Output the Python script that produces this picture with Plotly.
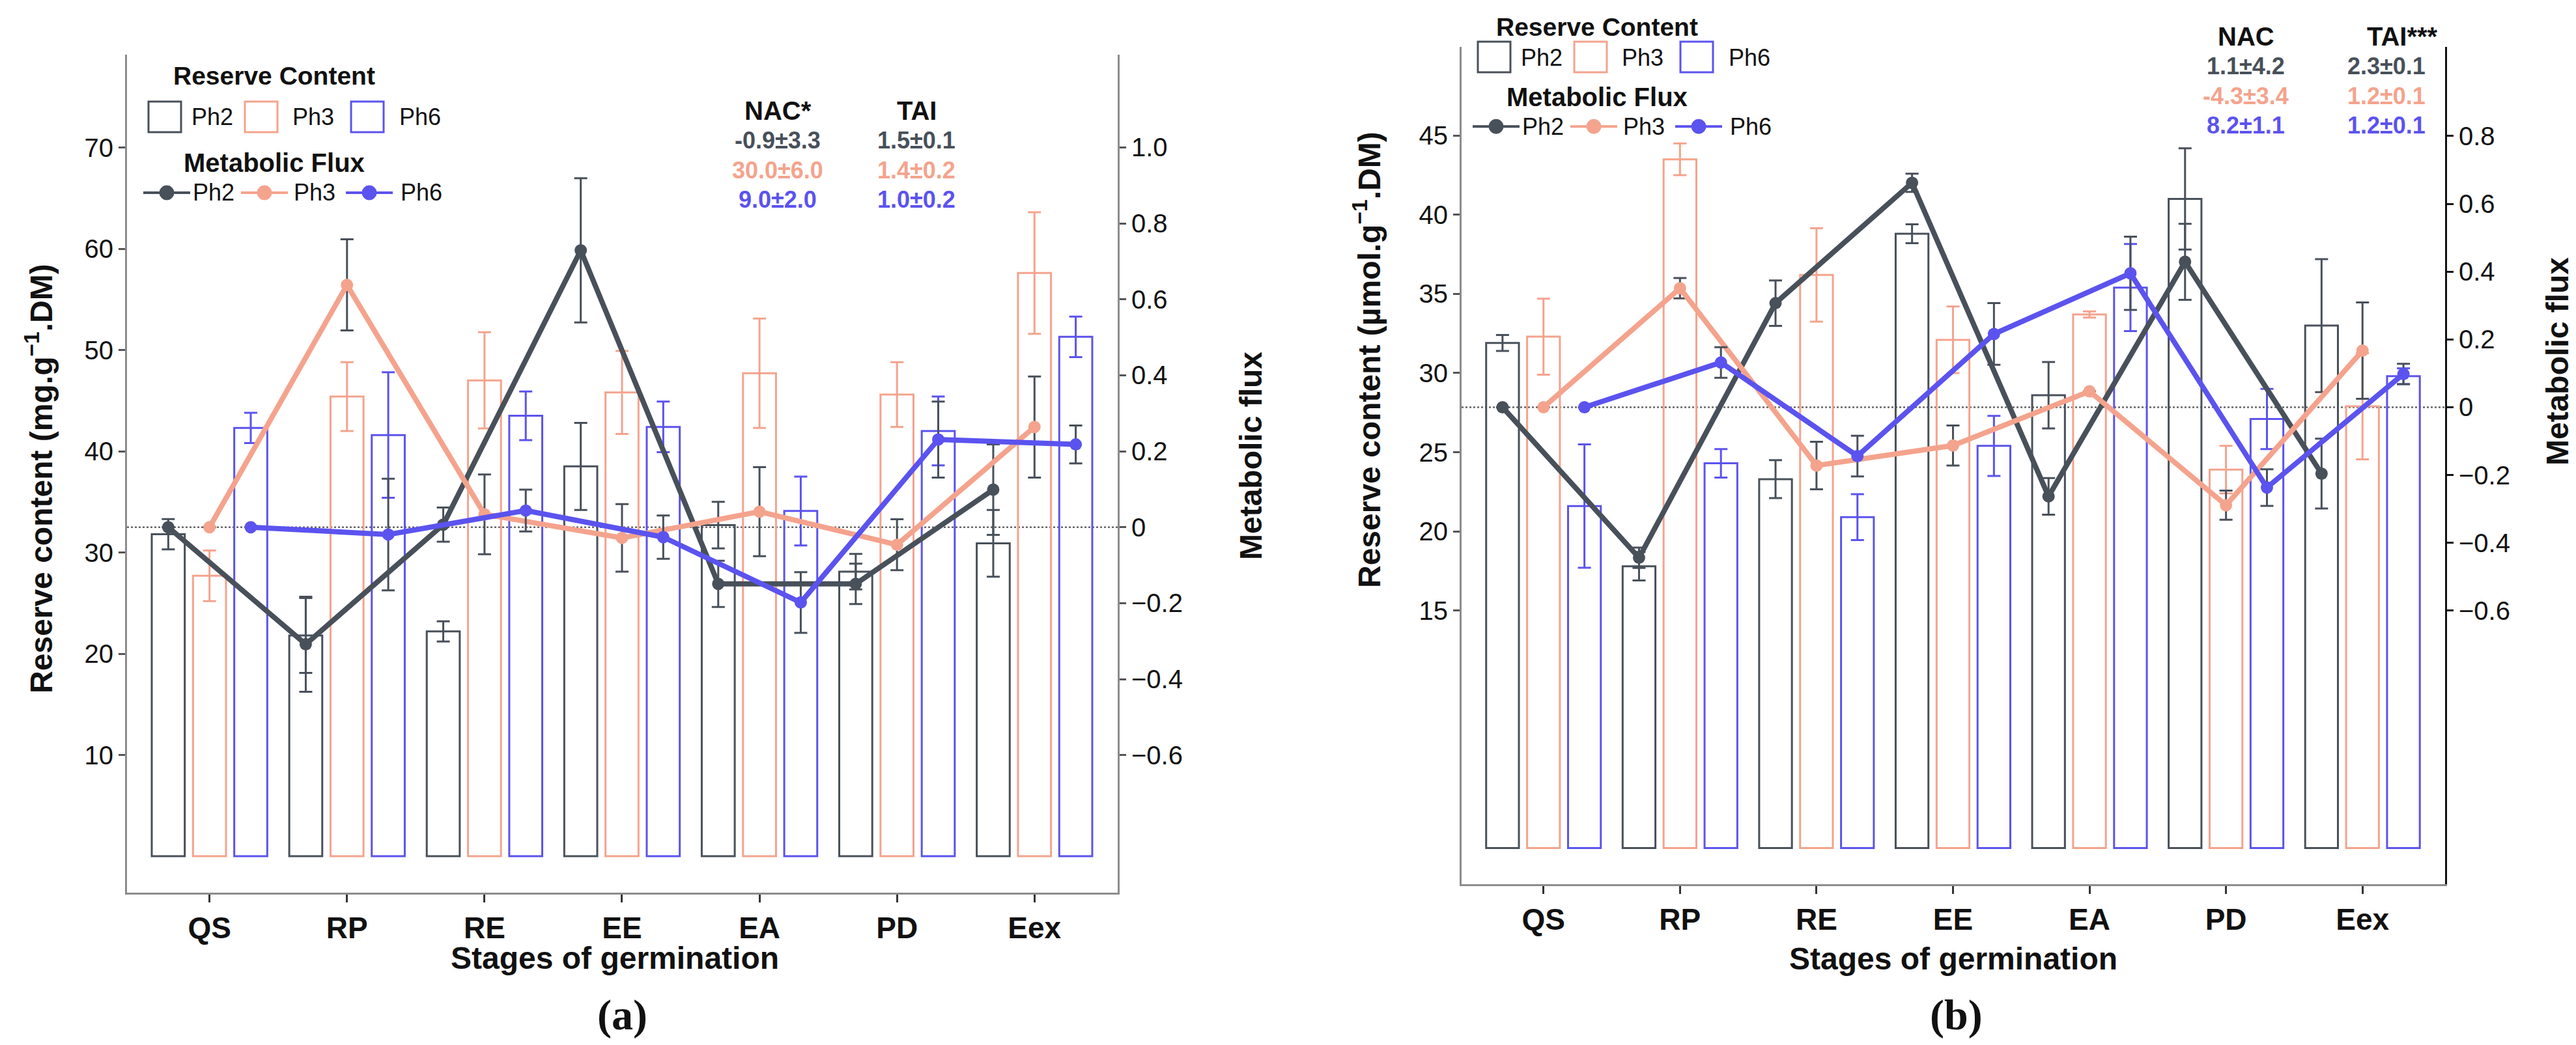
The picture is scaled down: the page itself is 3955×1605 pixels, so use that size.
import plotly.graph_objects as go

W, H = 3955, 1605

STAGES = ["QS", "RP", "RE", "EE", "EA", "PD", "Eex"]
SERIES = ["Ph2", "Ph3", "Ph6"]
COLORS = ["#48505a", "#f4a38d", "#5b53ee"]
ERR_GRAY = "#48505a"

# panel (a) reserve content, mg.g-1.DM
a_res_ph2 = [31.8, 21.8, 22.2, 38.5, 32.7, 28.1, 30.9]
a_res_ph2_err = [1.5, 3.7, 1.0, 4.3, 2.3, 1.75, 3.3]
a_res_ph3 = [27.7, 45.4, 47.0, 45.8, 47.7, 45.6, 57.6]
a_res_ph3_err = [2.5, 3.4, 4.75, 4.1, 5.4, 3.2, 6.0]
a_res_ph6 = [42.3, 41.6, 43.5, 42.4, 34.1, 42.0, 51.3]
a_res_ph6_err = [1.5, 6.2, 2.4, 2.5, 3.4, 3.4, 2.0]

# panel (a) metabolic flux
a_flux_ph2 = [0, -0.308, 0.007, 0.729, -0.149, -0.149, 0.099]
a_flux_ph2_err = [None, 0.125, 0.045, 0.19, 0.061, 0.053, 0.119]
a_flux_ph3 = [0, 0.638, 0.034, -0.028, 0.041, -0.046, 0.264]
a_flux_ph3_err = [None, 0.12, 0.105, 0.089, 0.117, 0.067, 0.133]
a_flux_ph6 = [0, -0.019, 0.044, -0.026, -0.198, 0.231, 0.218]
a_flux_ph6_err = [None, 0.147, 0.055, 0.057, 0.08, 0.1, 0.05]

# panel (b) reserve content, umol.g-1.DM
b_res_ph2 = [31.9, 17.8, 23.3, 38.8, 28.6, 41.0, 33.0]
b_res_ph2_err = [0.5, 0.9, 1.2, 0.6, 2.1, 3.2, 4.2]
b_res_ph3 = [32.3, 43.5, 36.2, 32.1, 33.7, 23.9, 27.9]
b_res_ph3_err = [2.4, 1.0, 2.95, 2.1, 0.2, 1.5, 3.35]
b_res_ph6 = [21.6, 24.3, 20.9, 25.4, 35.4, 27.1, 29.8]
b_res_ph6_err = [3.9, 0.9, 1.45, 1.9, 2.75, 1.9, 0.5]

# panel (b) metabolic flux
b_flux_ph2 = [0, -0.444, 0.307, 0.662, -0.263, 0.429, -0.196]
b_flux_ph2_err = [None, 0.03, 0.067, 0.027, 0.054, 0.112, 0.103]
b_flux_ph3 = [0, 0.351, -0.172, -0.113, 0.047, -0.289, 0.167]
b_flux_ph3_err = [None, 0.03, 0.07, 0.059, None, 0.043, 0.142]
b_flux_ph6 = [0, 0.132, -0.144, 0.216, 0.395, -0.237, 0.098]
b_flux_ph6_err = [None, 0.045, 0.06, 0.091, 0.108, 0.054, 0.03]

# summary indices
a_nac = ["-0.9±3.3", "30.0±6.0", "9.0±2.0"]
a_tai = ["1.5±0.1", "1.4±0.2", "1.0±0.2"]
b_nac = ["1.1±4.2", "-4.3±3.4", "8.2±1.1"]
b_tai = ["2.3±0.1", "1.2±0.1", "1.2±0.1"]

a_left_ticks = [10, 20, 30, 40, 50, 60, 70]
b_left_ticks = [15, 20, 25, 30, 35, 40, 45]
a_right_ticks = [-0.6, -0.4, -0.2, 0, 0.2, 0.4, 0.6, 0.8, 1.0]
a_right_text = ["−0.6", "−0.4", "−0.2", "0", "0.2", "0.4", "0.6", "0.8", "1.0"]
b_right_ticks = [-0.6, -0.4, -0.2, 0, 0.2, 0.4, 0.6, 0.8]
b_right_text = ["−0.6", "−0.4", "−0.2", "0", "0.2", "0.4", "0.6", "0.8"]

OFFSETS = [-0.3, 0.0, 0.3]
SANS = "Liberation Sans, Arial, sans-serif"
SERIF = "Liberation Serif, Times New Roman, serif"


def px(x):
    return x / W


def py(y):
    return 1 - y / H


fig = go.Figure()

panels = [
    dict(x="x", y="y", y2="y2",
         res=[(a_res_ph2, a_res_ph2_err), (a_res_ph3, a_res_ph3_err), (a_res_ph6, a_res_ph6_err)],
         flux=[(a_flux_ph2, a_flux_ph2_err), (a_flux_ph3, a_flux_ph3_err), (a_flux_ph6, a_flux_ph6_err)]),
    dict(x="x2", y="y3", y2="y4",
         res=[(b_res_ph2, b_res_ph2_err), (b_res_ph3, b_res_ph3_err), (b_res_ph6, b_res_ph6_err)],
         flux=[(b_flux_ph2, b_flux_ph2_err), (b_flux_ph3, b_flux_ph3_err), (b_flux_ph6, b_flux_ph6_err)]),
]

for p in panels:
    for k, (vals, err) in enumerate(p["res"]):
        fig.add_trace(go.Bar(
            x=[i + OFFSETS[k] for i in range(len(STAGES))], y=vals, width=0.24,
            xaxis=p["x"], yaxis=p["y"], showlegend=False,
            marker=dict(color="rgba(0,0,0,0)", line=dict(color=COLORS[k], width=3)),
            error_y=dict(type="data", array=err, color=COLORS[k], thickness=3, width=10),
        ))
    for k, (vals, err) in enumerate(p["flux"]):
        fig.add_trace(go.Scatter(
            x=[i + OFFSETS[k] for i in range(len(STAGES))], y=vals, mode="lines+markers",
            xaxis=p["x"], yaxis=p["y2"], showlegend=False,
            line=dict(color=COLORS[k], width=8), marker=dict(color=COLORS[k], size=19),
            error_y=dict(type="data", array=err, color=ERR_GRAY, thickness=3, width=10),
        ))

tickfont = dict(family=SANS, size=40, color="#111")
xfont = dict(family=SANS, size=46, color="#111", weight="bold")
common_x = dict(range=[-0.6, 6.605], tickvals=list(range(len(STAGES))), ticktext=STAGES,
                tickfont=xfont, showline=True, linecolor="#8c8c8c", linewidth=3,
                ticks="outside", ticklen=12, tickwidth=3, tickcolor="#333",
                showgrid=False, zeroline=False)
common_y = dict(showline=True, linecolor="#8c8c8c", linewidth=3, ticks="outside",
                ticklen=10, tickwidth=3, tickcolor="#555", tickfont=tickfont,
                showgrid=False, zeroline=False)

fig.update_layout(
    width=W, height=H, margin=dict(l=0, r=0, t=0, b=0),
    paper_bgcolor="white", plot_bgcolor="white", barmode="overlay",
    font=dict(family=SANS, color="#111"),
    xaxis=dict(domain=[px(187), px(1708)], anchor="y", **common_x),
    yaxis=dict(domain=[py(1363), py(75.5)], anchor="x", range=[-3.6, 79.2],
               tickvals=a_left_ticks, **common_y),
    yaxis2=dict(overlaying="y", side="right", anchor="x", range=[-0.962, 1.245],
                tickvals=a_right_ticks, ticktext=a_right_text, **common_y),
    xaxis2=dict(domain=[px(2236), px(3746)], anchor="y3", **common_x),
    yaxis3=dict(domain=[py(1350), py(64)], anchor="x2", range=[-2.28, 50.6],
                tickvals=b_left_ticks, **common_y),
    yaxis4=dict(overlaying="y3", side="right", anchor="x2", range=[-1.407, 1.063],
                tickvals=b_right_ticks, ticktext=b_right_text,
                **{**common_y, "linecolor": "#111", "tickcolor": "#111"}),
)

# zero-flux reference lines
for xr, yr in [("x domain", "y2"), ("x2 domain", "y4")]:
    fig.add_shape(type="line", xref=xr, yref=yr, x0=0, x1=1, y0=0, y1=0,
                  line=dict(color="#666", width=2.5, dash="dot"), layer="below")


def text(x, y, s, size, color="#111", bold=False, angle=0, anchor="center", family=SANS):
    fig.add_annotation(x=px(x), y=py(y), xref="paper", yref="paper", text=s,
                       showarrow=False, textangle=angle, xanchor=anchor, yanchor="middle",
                       font=dict(family=family, size=size, color=color,
                                 weight="bold" if bold else "normal"))


def legend(bx, by, title1_y, title2_y, line_y, title_x):
    text(title_x, title1_y, "Reserve Content", 39, bold=True)
    text(title_x, title2_y, "Metabolic Flux", 40, bold=True)
    box_dx = [0, 148, 311]
    txt_dx = [64, 219, 383]
    line_dx = [-8, 142, 303]
    for k, name in enumerate(SERIES):
        x0 = bx + box_dx[k]
        fig.add_shape(type="rect", xref="paper", yref="paper",
                      x0=px(x0), x1=px(x0 + 50), y0=py(by), y1=py(by + 47),
                      line=dict(color=COLORS[k], width=3), fillcolor="rgba(0,0,0,0)")
        text(bx + txt_dx[k], by + 24, name, 36, anchor="left")
        lx = bx + line_dx[k]
        fig.add_shape(type="line", xref="paper", yref="paper",
                      x0=px(lx), x1=px(lx + 72), y0=py(line_y), y1=py(line_y),
                      line=dict(color=COLORS[k], width=4))
        fig.add_shape(type="circle", xref="paper", yref="paper",
                      x0=px(lx + 36 - 11), x1=px(lx + 36 + 11),
                      y0=py(line_y - 11), y1=py(line_y + 11),
                      line=dict(color=COLORS[k], width=1), fillcolor=COLORS[k])
        text(bx + txt_dx[k] + 2, line_y, name, 36, anchor="left")


legend(220, 148, 108.7, 242, 288, 413)
legend(2261, 56, 33.2, 141.3, 186.2, 2444)


def indices(nac_title, tai_title, nac, tai, nac_x, tai_x, tai_title_x, y0, dy):
    text(nac_x, y0, nac_title, 40, bold=True)
    text(tai_title_x, y0, tai_title, 40, bold=True)
    for k in range(3):
        text(nac_x, y0 + dy * (k + 1), nac[k], 36, color=COLORS[k], bold=True)
        text(tai_x, y0 + dy * (k + 1), tai[k], 36, color=COLORS[k], bold=True)


indices("NAC*", "TAI", a_nac, a_tai, 1186, 1399, 1399, 162, 45.5)
indices("NAC", "TAI***", b_nac, b_tai, 3440, 3656, 3680, 48.5, 45.4)

# axis titles and panel labels
text(52, 727, "Reserve content (mg.g<sup>−1</sup>.DM)", 48, bold=True, angle=-90)
text(1912, 692, "Metabolic flux", 48, bold=True, angle=-90)
text(936, 1463, "Stages of germination", 48, bold=True)
text(947, 1551, "(a)", 66, bold=True, family=SERIF)

text(2091, 545, "Reserve content (µmol.g<sup>−1</sup>.DM)", 48, bold=True, angle=-90)
text(3918, 547, "Metabolic flux", 48, bold=True, angle=-90)
text(2991, 1464, "Stages of germination", 48, bold=True)
text(2995, 1551, "(b)", 66, bold=True, family=SERIF)

fig.write_html("out.html")
